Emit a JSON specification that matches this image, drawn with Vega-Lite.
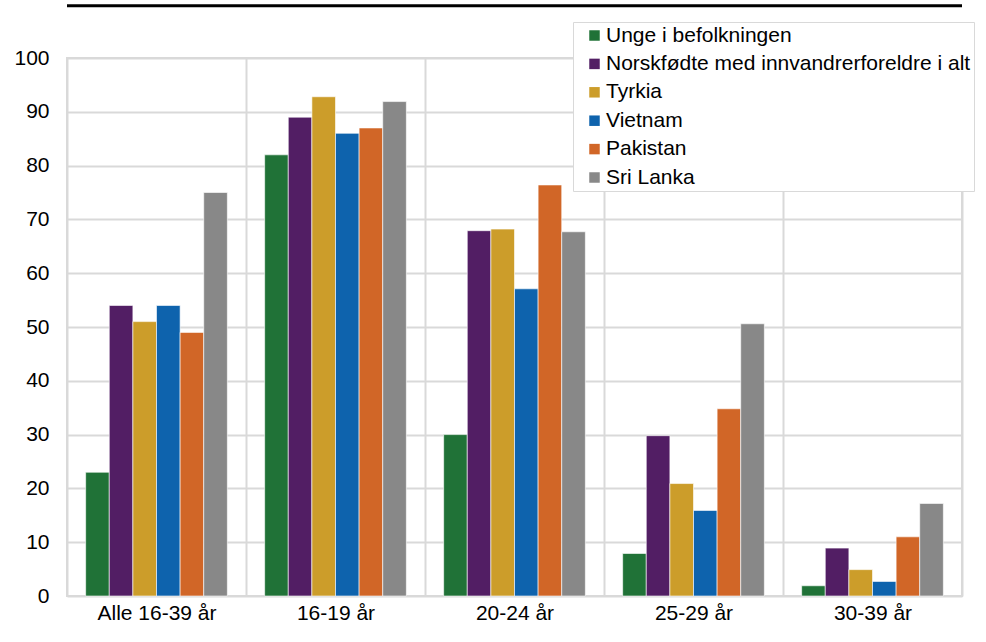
{
  "$schema": "https://vega.github.io/schema/vega-lite/v6.json",
  "width": 895,
  "height": 538,
  "autosize": {"type": "none"},
  "padding": {"left": 67, "top": 58, "right": 24, "bottom": 46},
  "background": "white",
  "config": {
    "font": "Liberation Sans",
    "view": {"stroke": "#d9d9d9", "strokeWidth": 2},
    "axis": {"labelFont": "Liberation Sans", "labelFontSize": 21, "labelColor": "#000000", "domain": false, "ticks": false, "gridColor": "#d9d9d9", "gridWidth": 2, "title": null}
  },
  "data": {
    "values": [
      {"group": "Alle 16-39 år", "series": "Unge i befolkningen", "value": 23},
      {"group": "Alle 16-39 år", "series": "Norskfødte med innvandrerforeldre i alt", "value": 54},
      {"group": "Alle 16-39 år", "series": "Tyrkia", "value": 51},
      {"group": "Alle 16-39 år", "series": "Vietnam", "value": 54},
      {"group": "Alle 16-39 år", "series": "Pakistan", "value": 49},
      {"group": "Alle 16-39 år", "series": "Sri Lanka", "value": 75},
      {"group": "16-19 år", "series": "Unge i befolkningen", "value": 82},
      {"group": "16-19 år", "series": "Norskfødte med innvandrerforeldre i alt", "value": 89},
      {"group": "16-19 år", "series": "Tyrkia", "value": 92.8},
      {"group": "16-19 år", "series": "Vietnam", "value": 86},
      {"group": "16-19 år", "series": "Pakistan", "value": 87},
      {"group": "16-19 år", "series": "Sri Lanka", "value": 91.9},
      {"group": "20-24 år", "series": "Unge i befolkningen", "value": 30},
      {"group": "20-24 år", "series": "Norskfødte med innvandrerforeldre i alt", "value": 67.9},
      {"group": "20-24 år", "series": "Tyrkia", "value": 68.2},
      {"group": "20-24 år", "series": "Vietnam", "value": 57.1},
      {"group": "20-24 år", "series": "Pakistan", "value": 76.4},
      {"group": "20-24 år", "series": "Sri Lanka", "value": 67.7},
      {"group": "25-29 år", "series": "Unge i befolkningen", "value": 7.9},
      {"group": "25-29 år", "series": "Norskfødte med innvandrerforeldre i alt", "value": 29.8},
      {"group": "25-29 år", "series": "Tyrkia", "value": 20.9},
      {"group": "25-29 år", "series": "Vietnam", "value": 15.9},
      {"group": "25-29 år", "series": "Pakistan", "value": 34.8},
      {"group": "25-29 år", "series": "Sri Lanka", "value": 50.6},
      {"group": "30-39 år", "series": "Unge i befolkningen", "value": 1.9},
      {"group": "30-39 år", "series": "Norskfødte med innvandrerforeldre i alt", "value": 8.9},
      {"group": "30-39 år", "series": "Tyrkia", "value": 4.9},
      {"group": "30-39 år", "series": "Vietnam", "value": 2.7},
      {"group": "30-39 år", "series": "Pakistan", "value": 11},
      {"group": "30-39 år", "series": "Sri Lanka", "value": 17.2}
    ]
  },
  "layer": [
    {
      "mark": {"type": "bar", "stroke": "#ffffff", "strokeWidth": 1, "strokeOpacity": 0.6},
      "encoding": {
        "x": {
          "field": "group", "type": "nominal", "sort": null,
          "scale": {"paddingInner": 0, "paddingOuter": 0},
          "axis": {"labelAngle": 0, "labelPadding": 6, "grid": true, "tickBand": "extent"}
        },
        "xOffset": {
          "field": "series", "type": "nominal",
          "sort": ["Unge i befolkningen", "Norskfødte med innvandrerforeldre i alt", "Tyrkia", "Vietnam", "Pakistan", "Sri Lanka"],
          "scale": {"paddingInner": 0, "paddingOuter": 0.79}
        },
        "y": {
          "field": "value", "type": "quantitative",
          "scale": {"domain": [0, 100], "nice": false},
          "axis": {"values": [0, 10, 20, 30, 40, 50, 60, 70, 80, 90, 100], "labelPadding": 18, "grid": true}
        },
        "color": {
          "field": "series", "type": "nominal",
          "scale": {
            "domain": ["Unge i befolkningen", "Norskfødte med innvandrerforeldre i alt", "Tyrkia", "Vietnam", "Pakistan", "Sri Lanka"],
            "range": ["#207237", "#521e64", "#cc9d2a", "#0e63ad", "#d16627", "#888888"]
          },
          "legend": {
            "title": null,
            "orient": "none",
            "legendX": 506,
            "legendY": -36,
            "symbolType": "square",
            "symbolSize": 110,
            "symbolStrokeWidth": 0,
            "symbolOffset": 8,
            "labelFontSize": 21,
            "labelFont": "Liberation Sans",
            "labelColor": "#000000",
            "labelOffset": 1,
            "labelLimit": 600,
            "rowPadding": 6.4,
            "padding": 3,
            "strokeColor": "#d9d9d9",
            "fillColor": "#ffffff"
          }
        }
      }
    },
    {
      "data": {"values": [{}]},
      "mark": {"type": "rule", "color": "#000000", "strokeWidth": 3, "clip": false},
      "encoding": {"y": {"datum": 109.7}}
    }
  ]
}
